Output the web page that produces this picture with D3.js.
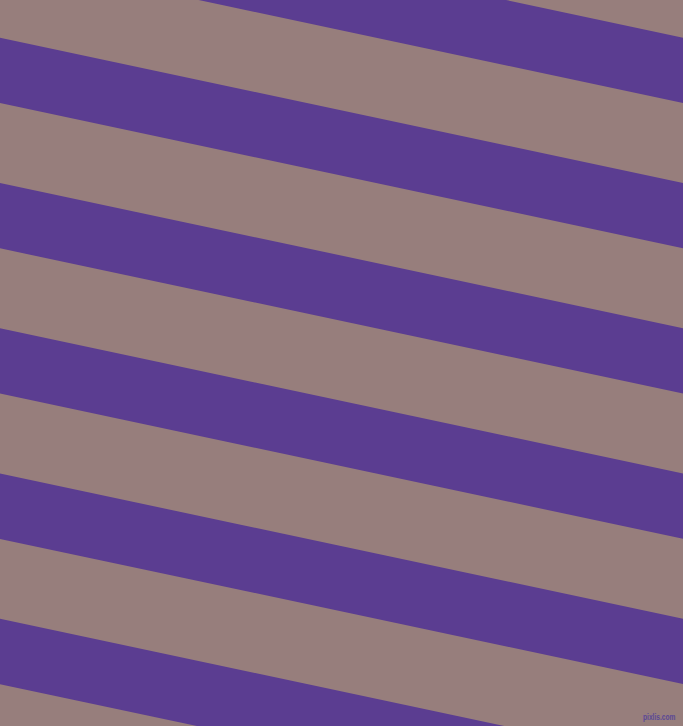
<!DOCTYPE html>
<html>
<head>
<meta charset="utf-8">
<script src="https://cdn.jsdelivr.net/npm/d3@7"></script>
<style>
  html, body { margin: 0; padding: 0; background: #977e7c; }
  svg { display: block; }
</style>
</head>
<body>
<div id="chart"></div>
<script>
// Stripe data
const stripeIndex = [-2, -1, 0, 1, 2, 3, 4, 5];
const stripeColors = ["#977e7c", "#5b3d91"]; // background, stripe
const stripeAngle = [12];
const watermark = ["pixlis.com"];

const width = 683;
const height = 726;

const svg = d3
  .select("#chart")
  .append("svg")
  .attr("width", width)
  .attr("height", height);

svg
  .append("rect")
  .attr("width", width)
  .attr("height", height)
  .attr("fill", stripeColors[0]);

// offset of each purple stripe, measured perpendicular to the stripes
const u = d3.scaleLinear().domain([0, 1]).range([36.9, 179.0]);
const stripeWidth = 63.9;

const g = svg.append("g").attr("transform", `rotate(${stripeAngle[0]})`);

g.selectAll("rect.stripe")
  .data(stripeIndex)
  .enter()
  .append("rect")
  .attr("class", "stripe")
  .attr("x", -300)
  .attr("width", 1400)
  .attr("y", (d) => u(d))
  .attr("height", stripeWidth)
  .attr("fill", stripeColors[1]);

// small watermark, squeezed horizontally like the pixel font in the original
svg
  .append("g")
  .attr("transform", "translate(643,720) scale(0.7,1)")
  .append("text")
  .attr("x", 0)
  .attr("y", 0)
  .style("font-family", "Liberation Sans, sans-serif")
  .style("font-weight", "bold")
  .style("font-size", "9.5px")
  .style("fill", "#5a4896")
  .text(watermark[0]);
</script>
</body>
</html>
